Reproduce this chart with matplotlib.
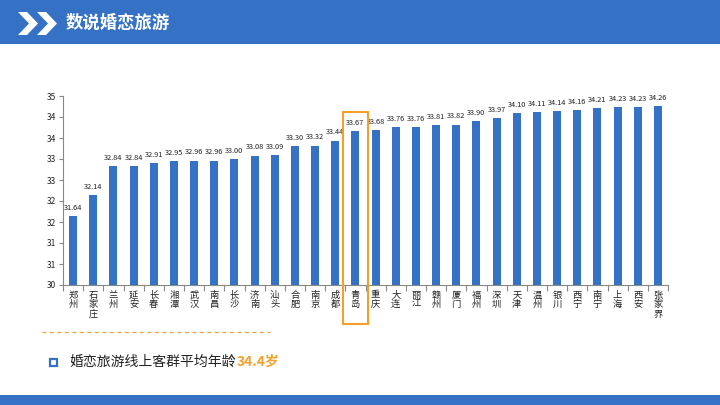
import numpy as np
import matplotlib
matplotlib.use("Agg")
import matplotlib.pyplot as plt
from matplotlib.patches import Rectangle, Polygon
from matplotlib.lines import Line2D
from matplotlib.ticker import FixedLocator, FuncFormatter

plt.rcParams['font.family'] = ['Noto Sans CJK SC', 'DejaVu Sans']

cities = ["郑州", "石家庄", "兰州", "延安", "长春", "湘潭", "武汉", "南昌", "长沙", "济南",
          "汕头", "合肥", "南京", "成都", "青岛", "重庆", "大连", "丽江", "赣州", "厦门",
          "福州", "深圳", "天津", "温州", "银川", "西宁", "南宁", "上海", "西安", "张家界"]
ages = [31.64, 32.14, 32.84, 32.84, 32.91, 32.95, 32.96, 32.96, 33.00, 33.08,
        33.09, 33.30, 33.32, 33.44, 33.67, 33.68, 33.76, 33.76, 33.81, 33.82,
        33.90, 33.97, 34.10, 34.11, 34.14, 34.16, 34.21, 34.23, 34.23, 34.26]
y_ticks = [30, 30.5, 31, 31.5, 32, 32.5, 33, 33.5, 34, 34.5]
highlight = "青岛"
title = "数说婚恋旅游"
note = "婚恋旅游线上客群平均年龄"
note_value = "34.4岁"

BLUE = "#3572C6"
ORANGE = "#F4A02A"
W, H = 720, 405

fig = plt.figure(figsize=(7.2, 4.05), dpi=100)
fig.patch.set_facecolor("white")

def fx(px):
    return px / W

def fy(py):
    return 1 - py / H

# header bar
fig.patches.append(Rectangle((0, fy(44)), 1, 44 / H, transform=fig.transFigure,
                             facecolor=BLUE, edgecolor="none", zorder=0))
# chevrons
for x0 in (18, 37):
    pts = [(x0, 12), (x0 + 9, 12), (x0 + 20, 23.5), (x0 + 9, 35), (x0, 35), (x0 + 11, 23.5)]
    fig.patches.append(Polygon([(fx(a), fy(b)) for a, b in pts], closed=True,
                               transform=fig.transFigure, facecolor="white",
                               edgecolor="none", zorder=1))
fig.text(fx(66), fy(23), title, color="white", fontsize=12.5, fontweight="bold",
         va="center", ha="left")

# bottom bar
fig.patches.append(Rectangle((0, 0), 1, 10 / H, transform=fig.transFigure,
                             facecolor=BLUE, edgecolor="none", zorder=0))

# chart axes
ax = fig.add_axes([fx(63), 120 / H, (668 - 63) / W, 189 / H])
x = np.arange(len(cities))
ax.bar(x, [a - 30 for a in ages], bottom=30, width=0.4, color=BLUE, zorder=2)
ax.set_xlim(-0.5, len(cities) - 0.5)
ax.set_ylim(30, 34.5)
ax.yaxis.set_major_locator(FixedLocator(y_ticks))
ax.yaxis.set_major_formatter(FuncFormatter(lambda v, p: f"{int(np.floor(v + 0.5))}"))
ax.set_xticks(x)
ax.set_xticklabels(["\n".join(c) for c in cities], fontsize=6.7, linespacing=1.05,
                   va="top", color="#222222")
ax.set_xticks(np.arange(-0.5, len(cities), 1), minor=True)
ax.tick_params(axis="x", which="major", length=0, pad=4)
ax.tick_params(axis="x", which="minor", length=4, color="#888888", width=0.8)
ax.tick_params(axis="y", length=3, color="#888888", width=0.8, labelsize=6,
               pad=2, labelcolor="#222222")
for s in ("top", "right"):
    ax.spines[s].set_visible(False)
for s in ("left", "bottom"):
    ax.spines[s].set_color("#888888")
    ax.spines[s].set_linewidth(0.8)

for xi, a in zip(x, ages):
    ax.text(xi, a + 0.1, f"{a:.2f}", ha="center", va="bottom", fontsize=5.3,
            color="#222222", zorder=3)

# highlight box
hi = cities.index(highlight)
ax.add_patch(Rectangle((hi - 0.63, 29.07), 1.26, 34.12 - 29.07, facecolor="none",
                       edgecolor=ORANGE, linewidth=1.5, clip_on=False, zorder=4))

# dashed separator
fig.lines.append(Line2D([fx(42), fx(270)], [fy(332), fy(332)], transform=fig.transFigure,
                        color=ORANGE, linestyle=(0, (3, 3)), linewidth=0.9))

# note
fig.patches.append(Rectangle((fx(49.5), fy(366)), 7 / W, 7 / H, transform=fig.transFigure,
                             facecolor="white", edgecolor=BLUE, linewidth=1.6))
t = fig.text(fx(70), fy(362), note, color="#222222", fontsize=10, va="center", ha="left")
fig.canvas.draw()
bb = t.get_window_extent()
fig.text(bb.x1 / W, fy(362), note_value, color=ORANGE, fontsize=10, fontweight="bold",
         va="center", ha="left")

fig.savefig("out.png", dpi=100, facecolor="white")
